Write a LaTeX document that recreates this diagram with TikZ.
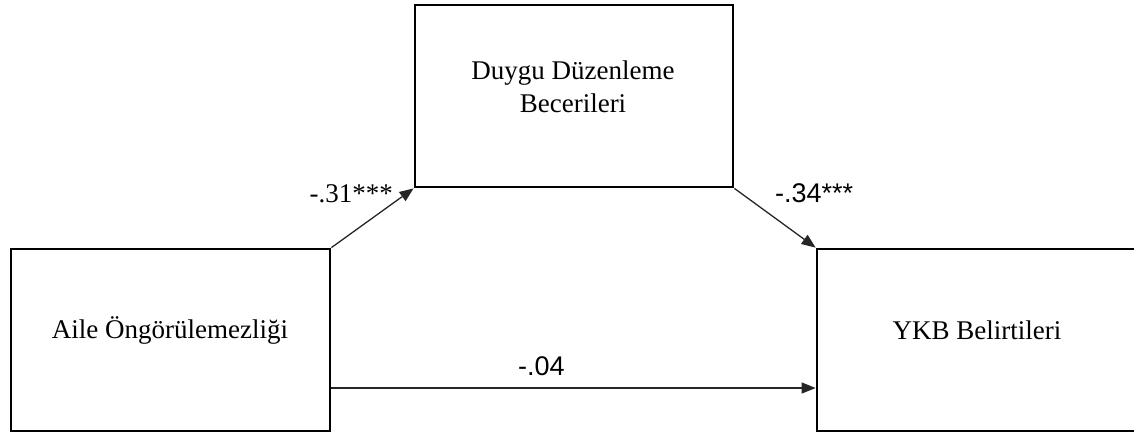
\documentclass[tikz,border=0pt]{standalone}
\usepackage{fontspec}
\setmainfont{Liberation Serif}
\newfontfamily\labsans{Liberation Sans}
\usetikzlibrary{arrows.meta}
\begin{document}
\begin{tikzpicture}[x=1pt,y=-1pt,
  box/.style={draw=black,line width=2.8pt,minimum width=#1,minimum height=182pt,inner sep=0pt,anchor=center},
  boxtext/.style={font=\fontsize{27}{33}\selectfont,anchor=base,align=center,inner sep=0pt},
  coef/.style={font=\fontsize{27}{33}\selectfont,inner sep=0pt},
  coefsans/.style={font=\fontsize{27}{33}\selectfont\labsans,inner sep=0pt},
  path/.style={draw=black!85,line width=1.3pt,-{Triangle[length=14pt,width=11pt]}}]
\useasboundingbox (0,0) rectangle (1134,434);
\node[box=319pt] (A) at (170.5,340) {};
\node[box=318pt] (M) at (574,96) {};
\node[box=320pt] (Y) at (977,340) {};
\node[boxtext] (At) at (170,338) {Aile Öngörülemezliği};
\node[boxtext] (Mt1) at (573,79) {Duygu Düzenleme};
\node[boxtext] (Mt2) at (573,112) {Becerileri};
\node[boxtext] (Yt) at (977,339) {YKB Belirtileri};
\coordinate (h) at (0,388);
\draw[path] (A.north east) -- (M.south west);
\draw[path] (M.south east) -- (Y.north west);
\draw[path] (A.east |- h) -- (Y.west |- h);
\node[coef,anchor=base east] (c1) at (393,202) {-.31***};
\node[coefsans,anchor=base west] (c2) at (775,202) {-.34***};
\node[coefsans,anchor=base west] (c3) at (518,375) {-.04};
\end{tikzpicture}
\end{document}
